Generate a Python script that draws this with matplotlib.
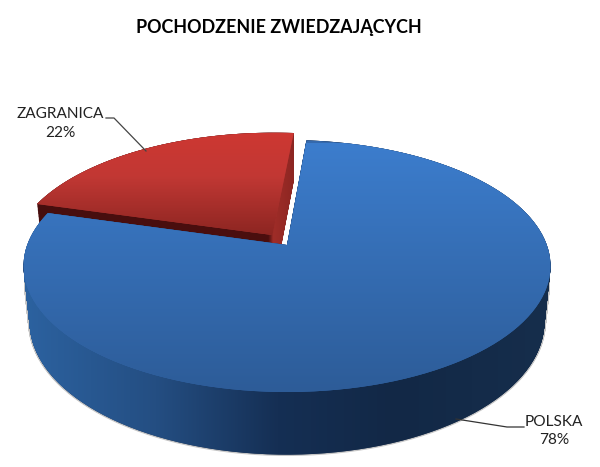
import numpy as np
import matplotlib
matplotlib.use("Agg")
import matplotlib.pyplot as plt
from matplotlib.path import Path
from matplotlib.patches import PathPatch
from matplotlib.transforms import Transform, Affine2D
from matplotlib.colors import LinearSegmentedColormap as LSC

plt.rcParams['font.family'] = ['Lato', 'DejaVu Sans']

categories = ['ZAGRANICA', 'POLSKA']
shares = [22, 78]
explode = [0.10, 0]
title = 'POCHODZENIE ZWIEDZAJĄCYCH'

CX, CY, AX, AY, K, DEPTH, SHR = 287.0, 245.0, 259.8, 122.5, 1/6, 55.0, 0.023


def flatten(path):
    """Curve-free outline of a wedge path in its own coordinates."""
    s = 1000.0
    poly = path.to_polygons(Affine2D().scale(s), closed_only=True)[0] / s
    return Path(poly, closed=True)


class Persp(Transform):
    """Tilted view of the unit-circle pie, at depth z (0 = top face)."""
    input_dims = output_dims = 2

    def __init__(self, z=0.0):
        super().__init__()
        self.z = z

    def transform_non_affine(self, v):
        v = np.asarray(v, float)
        d = 1 + K * v[:, 1]
        sc = 1 - SHR * self.z
        return np.column_stack([CX + sc * AX * v[:, 0] / d,
                                CY - sc * AY * v[:, 1] / d + DEPTH * self.z / d])

    def transform_path_non_affine(self, path):
        flat = flatten(path)
        return Path(self.transform_non_affine(flat.vertices), flat.codes)


fig = plt.figure(figsize=(6.0, 4.67), dpi=100)
ax = fig.add_axes([0, 0, 1, 1])
wedges, _ = ax.pie(shares, explode=explode, startangle=85, counterclock=True)
ax.set_aspect('auto')
ax.set_xlim(0, 600)
ax.set_ylim(467, 0)
ax.axis('off')


def wall_path(wedge, zs):
    flat = flatten(wedge.get_path())
    return Path.make_compound_path(*[Path(Persp(z).transform_non_affine(flat.vertices), flat.codes) for z in zs])


def shaded(stops, vertical, extent, clip, zorder):
    cmap = LSC.from_list('c', [(p, np.array(c) / 255) for p, c in stops])
    g = np.linspace(0, 1, 256)
    g = g[:, None] if vertical else g[None, :]
    im = ax.imshow(g, cmap=cmap, vmin=0, vmax=1, extent=extent, aspect='auto',
                   origin='upper', interpolation='bilinear', zorder=zorder)
    im.set_clip_path(clip)
    return im


zs = np.linspace(0, 1, 70)
full = (0, 600, 467, 0)
red, blue = wedges

# red wall: the dark radial face, then the lighter face on the right
rw = PathPatch(wall_path(red, zs), transform=ax.transData, fc='#5a1010', ec='none', zorder=1)
ax.add_patch(rw)
shaded([(0, (70, 14, 14)), (0.448, (75, 15, 15)), (0.455, (160, 45, 40)), (0.49, (140, 38, 34)), (1, (125, 34, 30))],
       False, full, rw, 1.1)
red.set_transform(Persp(0) + ax.transData)
red.set_zorder(2)
red.set_facecolor('#a83230')
red.set_edgecolor('none')
shaded([(0, (205, 55, 50)), (0.4, (194, 56, 52)), (1, (136, 36, 32))], True, (0, 600, 240, 133), red, 2.1)

# blue wall with a thin grey shadow
shadow = PathPatch(wall_path(blue, zs[25:]), transform=ax.transData, fc='#b0b0b0', ec='#b8b8b8',
                   lw=2, alpha=0.8, zorder=3)
ax.add_patch(shadow)
bw = PathPatch(wall_path(blue, zs), transform=ax.transData, fc='#1a3050', ec='none', zorder=3.1)
ax.add_patch(bw)
shaded([(0, (44, 98, 160)), (0.25, (36, 78, 130)), (0.48, (21, 47, 84)), (0.7, (18, 40, 70)), (1, (22, 46, 76))],
       False, (24, 552, 467, 0), bw, 3.2)
blue.set_transform(Persp(0) + ax.transData)
blue.set_zorder(4)
blue.set_facecolor('#3469ad')
blue.set_edgecolor('none')
shaded([(0, (60, 125, 205)), (1, (45, 92, 152))], True, (0, 600, 392, 143), blue, 4.1)

ax.text(279, 27, title, ha='center', va='center', fontsize=12.9, fontweight='bold', color='black', zorder=6)
ax.text(60, 123.5, f'{categories[0]}\n{shares[0]}%', ha='center', va='center', fontsize=11.1,
        color='#222222', linespacing=1.45, zorder=6)
ax.text(554, 431, f'{categories[1]}\n{shares[1]}%', ha='center', va='center', fontsize=11.1,
        color='#222222', linespacing=1.45, zorder=6)
ax.plot([106, 114, 146], [118, 118, 151], color='#444444', lw=0.9, zorder=5)
ax.plot([456, 507, 524], [419, 427, 427], color='#333333', lw=0.9, zorder=5)

fig.savefig('out.png', dpi=100, facecolor='white')
